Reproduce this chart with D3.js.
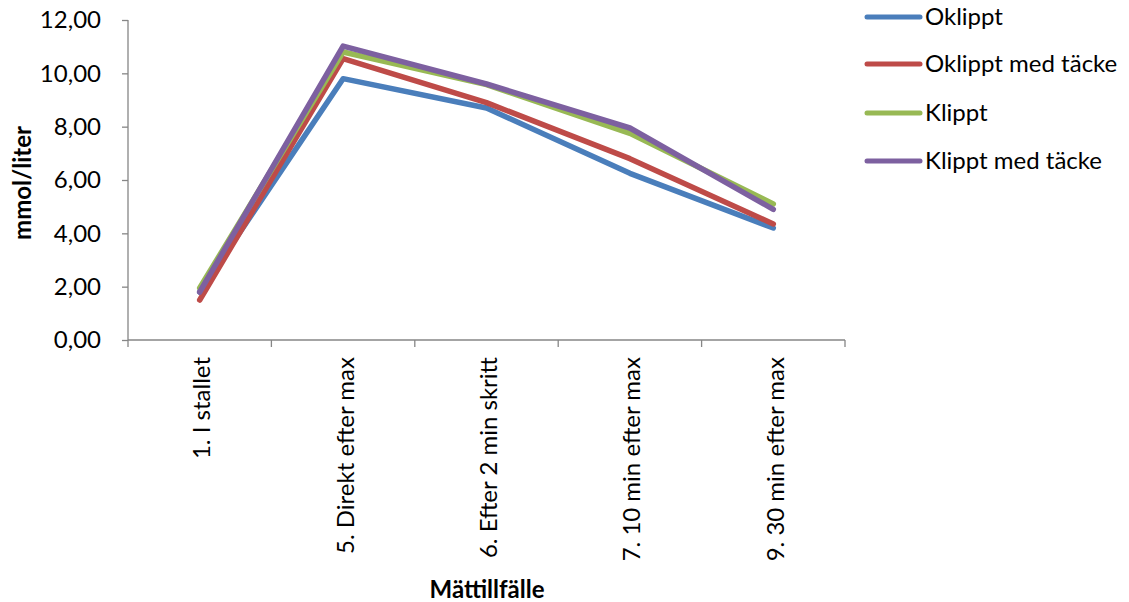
<!DOCTYPE html>
<html><head><meta charset="utf-8">
<script src="https://cdn.jsdelivr.net/npm/d3@7"></script>
<style>body{margin:0;background:#fff;} text{font-family:Lato,"Open Sans",sans-serif;fill:#000;}</style>
</head><body>
<svg id="c" width="1129" height="602"></svg>
<script>
const categories = ["1. I stallet","5. Direkt efter max","6. Efter 2 min skritt","7. 10 min efter max","9. 30 min efter max"];
const seriesNames = ["Oklippt","Oklippt med täcke","Klippt","Klippt med täcke"];
const oklippt = [1.80, 9.80, 8.70, 6.25, 4.20];
const oklipptMedTacke = [1.50, 10.55, 8.90, 6.80, 4.35];
const klippt = [1.95, 10.80, 9.58, 7.75, 5.10];
const klipptMedTacke = [1.80, 11.02, 9.60, 7.95, 4.90];
const yTicks = [0,2,4,6,8,10,12];
const colors = ["#4a7ebb","#be4b48","#98b954","#7d60a0"];
const allSeries = [oklippt, oklipptMedTacke, klippt, klipptMedTacke];

const svg = d3.select("#c");
const x = d3.scaleBand().domain(categories).range([128,845]);
const y = d3.scaleLinear().domain([0,12]).range([340,20]);
const fmt = v => d3.format(".2f")(v).replace(".", ",");

// y axis
const ya = svg.append("g").attr("transform","translate(128,0)")
  .call(d3.axisLeft(y).tickValues(yTicks).tickSize(6).tickPadding(21).tickFormat(fmt));
ya.selectAll("path,line").attr("stroke","#868686").attr("stroke-width",1.3);
ya.select(".domain").attr("d","M0,20V340");
ya.selectAll("text").attr("font-size",24).style("font-family","Lato");

// x axis
const xa = svg.append("g").attr("transform","translate(0,340)")
  .call(d3.axisBottom(x).tickSize(0).tickFormat(""));
xa.select(".domain").attr("stroke","#868686").attr("stroke-width",1.3).attr("d","M128,0H845");
const edges = categories.map(c => x(c)).concat([x.range()[1]]);
svg.append("g").selectAll("line").data(edges).join("line")
  .attr("x1",d=>d).attr("x2",d=>d).attr("y1",340).attr("y2",347)
  .attr("stroke","#868686").attr("stroke-width",1.3);
svg.append("g").selectAll("text").data(categories).join("text")
  .attr("transform", d => `translate(${x(d)+x.bandwidth()/2+2},357) rotate(-90)`)
  .attr("text-anchor","end").attr("dy","0.35em").attr("font-size",24).text(d=>d);

// lines
const line = d3.line().x((d,i)=>x(categories[i])+x.bandwidth()/2).y(d=>y(d));
allSeries.forEach((s,i)=>{
  svg.append("path").datum(s).attr("d",line).attr("fill","none")
    .attr("stroke",colors[i]).attr("stroke-width",5.5).attr("stroke-linecap","round").attr("stroke-linejoin","round");
});

// titles
svg.append("text").attr("transform","translate(23,183) rotate(-90)").attr("text-anchor","middle")
  .attr("dy","0.35em").attr("font-size",24).attr("font-weight","bold").text("mmol/liter");
svg.append("text").attr("x",487).attr("y",590).attr("dy","0.35em").attr("text-anchor","middle")
  .attr("font-size",24).attr("font-weight","bold").text("Mättillfälle");

// legend
const legY = [17,64,113,161];
const lg = svg.append("g");
seriesNames.forEach((n,i)=>{
  lg.append("line").attr("x1",867).attr("x2",920).attr("y1",legY[i]).attr("y2",legY[i])
    .attr("stroke",colors[i]).attr("stroke-width",5).attr("stroke-linecap","round");
  lg.append("text").attr("x",925).attr("y",legY[i]).attr("dy","0.35em").attr("font-size",24).text(n);
});
</script>
</body></html>
